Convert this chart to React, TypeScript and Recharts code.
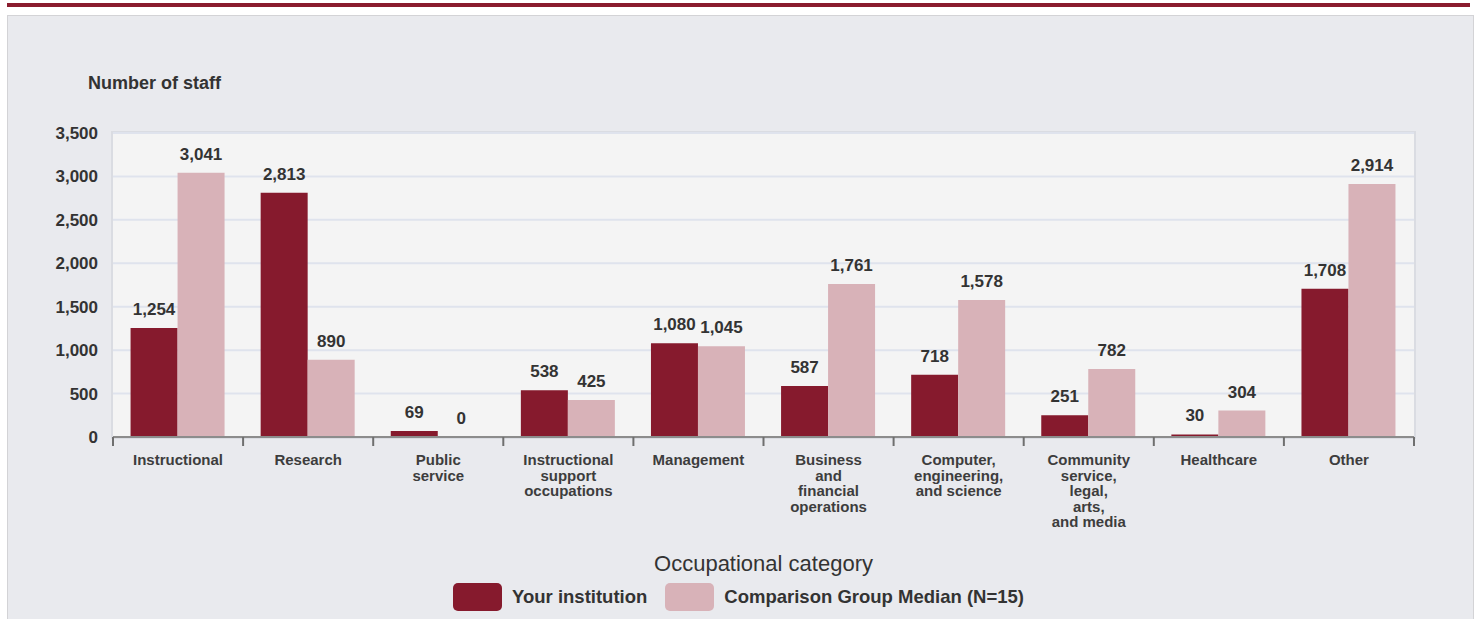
import React from 'react';
import { BarChart, Bar, XAxis, YAxis, CartesianGrid, LabelList } from 'recharts';

const FONT = '"Liberation Sans", Arial, sans-serif';
const DARK = '#861a2d';
const PINK = '#d8b2b8';

const categories = [
  'Instructional',
  'Research',
  'Public\nservice',
  'Instructional\nsupport\noccupations',
  'Management',
  'Business\nand\nfinancial\noperations',
  'Computer,\nengineering,\nand science',
  'Community\nservice,\nlegal,\narts,\nand media',
  'Healthcare',
  'Other',
];
const yourInstitution = [1254, 2813, 69, 538, 1080, 587, 718, 251, 30, 1708];
const comparisonMedian = [3041, 890, 0, 425, 1045, 1761, 1578, 782, 304, 2914];
const yTicks = [0, 500, 1000, 1500, 2000, 2500, 3000, 3500];

const data = categories.map((c, i) => ({ category: c, yours: yourInstitution[i], median: comparisonMedian[i] }));

const fmt = (v: number) => v.toLocaleString('en-US');

function CategoryTick(props: any) {
  const { x, y, payload, index, visibleTicksCount } = props;
  const half = payload.offset ?? 0;
  const lines = String(payload.value).split('\n');
  const isLast = index === visibleTicksCount - 1;
  return (
    <g>
      <line x1={x - half} x2={x - half} y1={y} y2={y + 9} stroke="#6f6f6f" strokeWidth={2} />
      {isLast && <line x1={x + half} x2={x + half} y1={y} y2={y + 9} stroke="#6f6f6f" strokeWidth={2} />}
      <text x={x} y={y + 28} textAnchor="middle" fill="#3d3d3d" fontSize={15} fontWeight="bold" fontFamily={FONT}>
        {lines.map((l, i) => (
          <tspan key={i} x={x} dy={i === 0 ? 0 : 15.5}>{l}</tspan>
        ))}
      </text>
    </g>
  );
}

function ValueLabel(props: any) {
  const { x, y, width, value } = props;
  if (value == null) return null;
  return (
    <text x={x + width / 2} y={y - 13} textAnchor="middle" fill="#333" fontSize={17} fontWeight="bold" fontFamily={FONT}>
      {fmt(Number(value))}
    </text>
  );
}

function Swatch({ color }: { color: string }) {
  return <span style={{ display: 'inline-block', width: 49, height: 28, borderRadius: 5, background: color }} />;
}

export default function App() {
  return (
    <div style={{ position: 'absolute', left: 0, top: 0, width: 1476, height: 619, background: '#fff', overflow: 'hidden', fontFamily: FONT }}>
      <div style={{ position: 'absolute', left: 7, top: 3, width: 1463, height: 4, background: '#8a1c2e' }} />
      <div style={{ position: 'absolute', left: 7, top: 15, width: 1465, height: 620, background: '#e9eaee', border: '1px solid #d3d3d6' }} />
      <div style={{ position: 'absolute', left: 111, top: 131, width: 1301, height: 304, background: '#f4f4f4', border: '2px solid #dadce2' }} />
      <div style={{ position: 'absolute', left: 88, top: 73, fontSize: 18, fontWeight: 'bold', color: '#333' }}>Number of staff</div>
      <div style={{ position: 'absolute', left: 0, width: 1527, top: 551, textAlign: 'center', fontSize: 22, color: '#333' }}>
        Occupational category
      </div>
      <div style={{ position: 'absolute', left: 453, top: 583, display: 'flex', alignItems: 'center', fontSize: 18.5, fontWeight: 'bold', color: '#333' }}>
        <Swatch color={DARK} />
        <span style={{ marginLeft: 10, marginRight: 18 }}>Your institution</span>
        <Swatch color={PINK} />
        <span style={{ marginLeft: 10 }}>Comparison Group Median (N=15)</span>
      </div>
      <div style={{ position: 'absolute', left: 0, top: 0 }}>
        <BarChart
          width={1476}
          height={619}
          data={data}
          margin={{ top: 133, left: 53, right: 62, bottom: 82 }}
          barCategoryGap="13.5%"
          barGap={0}
        >
          <CartesianGrid vertical={false} horizontal stroke="#dfe3ed" strokeWidth={2} />
          <XAxis
            dataKey="category"
            interval={0}
            height={100}
            tickSize={0}
            tickMargin={0}
            tickLine={false}
            axisLine={{ stroke: '#8c8c8c', strokeWidth: 2 }}
            tick={<CategoryTick />}
          />
          <YAxis
            width={60}
            domain={[0, 3500]}
            ticks={yTicks}
            axisLine={false}
            tickLine={false}
            tickSize={0}
            tickMargin={15}
            tickFormatter={fmt}
            tick={{ fill: '#333', fontSize: 17, fontWeight: 'bold', fontFamily: FONT }}
          />
          <Bar dataKey="yours" fill={DARK} isAnimationActive={false} minPointSize={0.01}>
            <LabelList dataKey="yours" content={<ValueLabel />} />
          </Bar>
          <Bar dataKey="median" fill={PINK} isAnimationActive={false} minPointSize={0.01}>
            <LabelList dataKey="median" content={<ValueLabel />} />
          </Bar>
        </BarChart>
      </div>
    </div>
  );
}
